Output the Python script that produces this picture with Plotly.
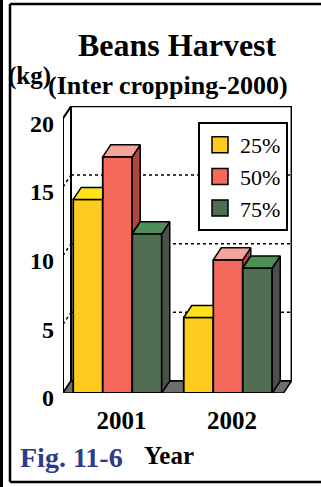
import plotly.graph_objects as go

# ---------------- data ----------------
years = ["2001", "2002"]
series = ["25%", "50%", "75%"]
v25 = [14.1, 5.5]
v50 = [17.2, 9.7]
v75 = [11.6, 9.1]
y_ticks = [0, 5, 10, 15, 20]

values = [v25, v50, v75]
front_colors = ["#FFCB1F", "#F4695A", "#4F6E52"]
top_colors = ["#FFE21C", "#F5A49C", "#4E8F57"]
side_colors = ["#B8920E", "#B2463C", "#4A504B"]

# ---------------- geometry ----------------
W, H = 321, 487
L, R, T, B = 63, 29, 106, 94
pw = W - L - R
ph = H - T - B
XR = [-0.493, 1.579]
YR = [0, 20.9]
DX = 8 * (XR[1] - XR[0]) / pw      # depth offset in data units
DY = 12 * (YR[1] - YR[0]) / ph
BW = 0.267                           # bar width (data units)
cats = list(range(len(years)))

def px(xp):
    return (xp - L) / pw

def py(yp):
    return (H - B - yp) / ph

fig = go.Figure()

# front faces (bars)
for i, name in enumerate(series):
    fig.add_trace(go.Bar(
        x=cats, y=values[i], width=BW, offset=-1.5 * BW + i * BW,
        marker=dict(color=front_colors[i], line=dict(color="black", width=1.8)),
        name=name, showlegend=False, hoverinfo="skip"))

# depth faces (top / side), clipped against the neighbouring bar
def poly(pts, color):
    xs = [p[0] for p in pts] + [pts[0][0]]
    ys = [p[1] for p in pts] + [pts[0][1]]
    fig.add_trace(go.Scatter(x=xs, y=ys, mode="lines", fill="toself",
                             fillcolor=color, line=dict(color="black", width=1.5),
                             showlegend=False, hoverinfo="skip"))

for g, cx in enumerate(cats):
    for i in range(len(series)):
        v = values[i][g]
        h2 = values[i + 1][g] if i + 1 < len(series) else 0
        x0 = cx - 1.5 * BW + i * BW
        x1 = x0 + BW
        if h2 >= v + DY:
            top = [(x0, v), (x0 + DX, v + DY), (x1, v + DY), (x1, v)]
            side = None
        elif h2 > v:
            xm = x1 + DX * (h2 - v) / DY
            top = [(x0, v), (x0 + DX, v + DY), (x1 + DX, v + DY), (xm, h2), (x1, h2), (x1, v)]
            side = None
        else:
            top = [(x0, v), (x0 + DX, v + DY), (x1 + DX, v + DY), (x1, v)]
            side = [(x1, h2), (x1, v), (x1 + DX, v + DY), (x1 + DX, h2 + DY)]
        if side:
            poly(side, side_colors[i])
        poly(top, top_colors[i])

# legend entries
for i, name in enumerate(series):
    fig.add_trace(go.Scatter(
        x=[None], y=[None], mode="markers", name=name, legendgroup=name,
        marker=dict(symbol="square", size=20, color=front_colors[i],
                    line=dict(color="black", width=1.5))))

# ---------------- walls, floor, grid ----------------
xl, xr = XR[0], XR[1] - 0.004
shapes = []
# back wall
shapes.append(dict(type="rect", xref="x", yref="y", x0=xl + DX, x1=xr, y0=DY, y1=20 + DY,
                   line=dict(color="black", width=2), fillcolor="white", layer="below"))
# left wall
shapes.append(dict(type="path", xref="x", yref="y",
                   path=f"M{xl},0 L{xl},20 L{xl + DX},{20 + DY} L{xl + DX},{DY} Z",
                   line=dict(color="black", width=2), fillcolor="white", layer="below"))
# floor
shapes.append(dict(type="path", xref="x", yref="y",
                   path=f"M{xl},0 L{xl + DX},{DY} L{xr},{DY} L{xr - DX},0 Z",
                   line=dict(color="black", width=1.5), fillcolor="#6E6E6E", layer="below"))
for t in y_ticks[1:-1]:
    shapes.append(dict(type="line", xref="x", yref="y", x0=xl + DX, x1=xr, y0=t + DY, y1=t + DY,
                       line=dict(color="black", width=1.5, dash="dot"), layer="below"))
    shapes.append(dict(type="line", xref="x", yref="y", x0=xl, x1=xl + DX, y0=t, y1=t + DY,
                       line=dict(color="black", width=1.5, dash="dot"), layer="below"))
# page frame (open on the right, as in the scan)
frame = dict(color="black", width=2.5)
shapes.append(dict(type="line", xref="paper", yref="paper", x0=px(1.5), x1=px(1.5), y0=py(0), y1=py(H),
                   line=dict(color="black", width=3)))
shapes.append(dict(type="line", xref="paper", yref="paper", x0=px(10), x1=px(10), y0=py(4), y1=py(482), line=frame))
shapes.append(dict(type="line", xref="paper", yref="paper", x0=px(10), x1=px(W), y0=py(4), y1=py(4), line=frame))
shapes.append(dict(type="line", xref="paper", yref="paper", x0=px(10), x1=px(W), y0=py(482), y1=py(482), line=frame))

serif = "Liberation Serif"
ann = [
    dict(text="Beans Harvest", x=px(177), y=py(45), size=32, xanchor="center", color="black"),
    dict(text="(kg)", x=px(6), y=py(76), size=25, xanchor="left", color="black"),
    dict(text="(Inter cropping-2000)", x=px(46), y=py(86), size=26, xanchor="left", color="black"),
    dict(text="Year", x=px(169), y=py(455), size=25, xanchor="center", color="black"),
    dict(text="Fig. 11-6", x=px(18), y=py(457), size=28, xanchor="left", color="#2E3A8C"),
]
annotations = [dict(text=a["text"], x=a["x"], y=a["y"], xref="paper", yref="paper",
                    xanchor=a["xanchor"], yanchor="middle", showarrow=False,
                    font=dict(family=serif, size=a["size"], color=a["color"], weight="bold"))
               for a in ann]

fig.update_layout(
    width=W, height=H, margin=dict(l=L, r=R, t=T, b=B, pad=0),
    paper_bgcolor="white", plot_bgcolor="rgba(0,0,0,0)",
    barmode="overlay", shapes=shapes, annotations=annotations,
    showlegend=True,
    legend=dict(x=px(198), y=py(122), xanchor="left", yanchor="top",
                bgcolor="white", bordercolor="black", borderwidth=2,
                font=dict(family=serif, size=22, color="black"),
                tracegroupgap=8, traceorder="normal", itemclick=False),
    xaxis=dict(range=XR, tickvals=[c + DX / 2 for c in cats], ticktext=years,
               showgrid=False, zeroline=False, showline=False, ticks="",
               ticklabelstandoff=10, fixedrange=True,
               tickfont=dict(family=serif, size=25, color="black", weight="bold")),
    yaxis=dict(range=YR, tickvals=y_ticks, ticktext=[str(t) for t in y_ticks],
               showgrid=False, zeroline=False, showline=False, ticks="",
               ticklabelstandoff=8, ticklabelshift=5, fixedrange=True,
               tickfont=dict(family=serif, size=24, color="black", weight="bold")),
)

fig.write_html("out.html")
